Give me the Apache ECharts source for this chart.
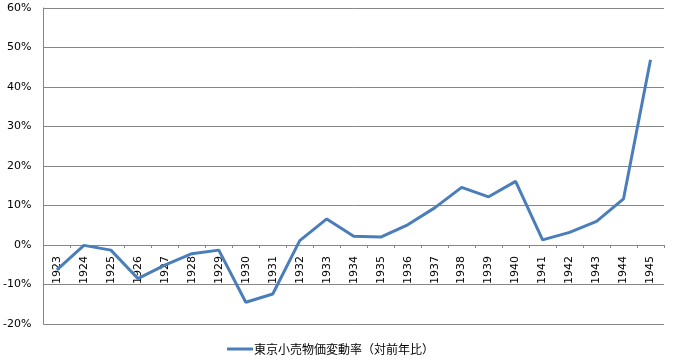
<!DOCTYPE html>
<html>
<head>
<meta charset="utf-8">
<script src="https://cdn.jsdelivr.net/npm/echarts@6/dist/echarts.min.js"></script>
<style>html,body{margin:0;padding:0;background:#fff}#c{width:675px;height:361px}</style>
</head>
<body>
<div id="c"></div>
<script>
const categories = ['1923','1924','1925','1926','1927','1928','1929','1930','1931','1932','1933','1934','1935','1936','1937','1938','1939','1940','1941','1942','1943','1944','1945'];
const seriesName = '東京小売物価変動率（対前年比）';
const values = [-6.3, -0.1, -1.3, -8.5, -5.1, -2.2, -1.3, -14.5, -12.4, 1.1, 6.6, 2.2, 2.0, 5.1, 9.4, 14.6, 12.2, 16.1, 1.3, 3.2, 6.0, 11.7, 46.9];
const yTicks = { min: -20, max: 60, interval: 10 };

const chart = echarts.init(document.getElementById('c'), null, { renderer: 'canvas' });
const font = 'DejaVu Sans';
const gridTop = 8, gridBottom = 37, H = 361;
const plotH = H - gridTop - gridBottom;
const zeroOffset = -plotH * (0 - yTicks.min) / (yTicks.max - yTicks.min);
chart.setOption({
  animation: false,
  backgroundColor: '#fff',
  grid: { left: 42, right: 11, top: gridTop, bottom: gridBottom, containLabel: false },
  legend: {
    data: [{ name: seriesName, icon: 'rect' }],
    left: 227, top: 343, padding: 0,
    itemWidth: 26, itemHeight: 3, itemGap: 0,
    textStyle: { fontFamily: 'Noto Sans CJK JP', fontSize: 12, color: '#000', padding: [0, 0, 0, -4] }
  },
  xAxis: {
    type: 'category',
    data: categories,
    boundaryGap: true,
    position: 'bottom',
    offset: zeroOffset,
    axisLine: { onZero: false, lineStyle: { color: '#868686', width: 1 } },
    axisTick: { show: true, length: 3, lineStyle: { color: '#868686' } },
    axisLabel: { rotate: 90, margin: 11, fontFamily: font, fontSize: 11, color: '#000' },
    splitLine: { show: false }
  },
  yAxis: {
    type: 'value',
    min: yTicks.min, max: yTicks.max, interval: yTicks.interval,
    axisLine: { show: true, lineStyle: { color: '#868686', width: 1 } },
    axisTick: { show: false },
    axisLabel: { formatter: '{value}%', margin: 12, fontFamily: font, fontSize: 11, color: '#000' },
    splitLine: { show: true, lineStyle: { color: '#868686', width: 1 } }
  },
  series: [{
    name: seriesName,
    type: 'line',
    data: values,
    symbol: 'none',
    lineStyle: { color: '#4a7ebb', width: 3 },
    itemStyle: { color: '#4a7ebb' }
  }]
});
</script>
</body>
</html>
